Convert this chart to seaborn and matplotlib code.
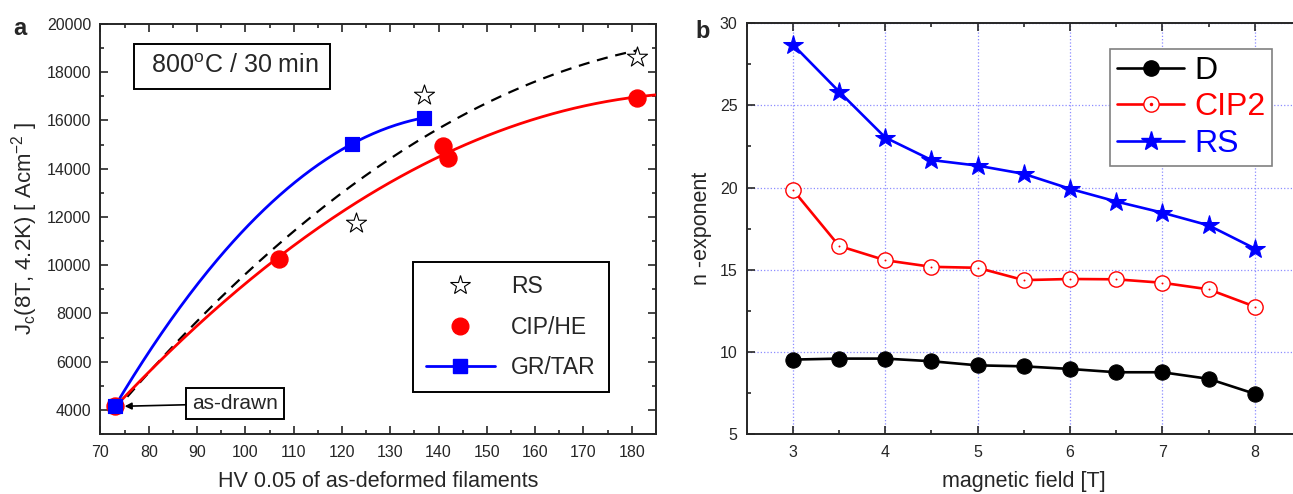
import numpy as np
import matplotlib
matplotlib.use("Agg")
import matplotlib.pyplot as plt
import seaborn as sns
from matplotlib.lines import Line2D
from matplotlib.ticker import MultipleLocator
from matplotlib.legend_handler import HandlerTuple

# panel a: Jc vs hardness, all series share the as-drawn point
as_drawn_hv = [73]
as_drawn_jc = [4150]
hv_rs = [123, 137, 181]
jc_rs = [11750, 17050, 18650]
hv_cip = [107, 141, 142, 181]
jc_cip = [10250, 14920, 14430, 16950]
hv_gr = [122, 137]
jc_gr = [15020, 16110]

# panel b: n-exponent vs field
field = [3, 3.5, 4, 4.5, 5, 5.5, 6, 6.5, 7, 7.5, 8]
n_d = [9.54, 9.60, 9.60, 9.44, 9.19, 9.13, 8.97, 8.77, 8.77, 8.37, 7.46]
n_cip2 = [19.86, 16.45, 15.58, 15.18, 15.12, 14.37, 14.44, 14.42, 14.21, 13.81, 12.76]
n_rs = [28.69, 25.83, 23.04, 21.67, 21.33, 20.83, 19.92, 19.15, 18.47, 17.70, 16.29]

sns.set_style("ticks")
plt.rcParams['font.family'] = ['Liberation Sans', 'DejaVu Sans']
plt.rcParams['mathtext.default'] = 'regular'


def quad_fit(x, y, x_end):
    # second order fit of the measured points, as in the original figure
    coef = np.polyfit(x, y, 2)
    xs = np.linspace(min(x), x_end, 200)
    return xs, np.polyval(coef, xs)


def style_axis(ax, xmaj, xmin, ymaj, ymin):
    ax.xaxis.set_major_locator(MultipleLocator(xmaj))
    ax.xaxis.set_minor_locator(MultipleLocator(xmin))
    ax.yaxis.set_major_locator(MultipleLocator(ymaj))
    ax.yaxis.set_minor_locator(MultipleLocator(ymin))
    ax.tick_params(which='both', direction='in', top=True, right=True, width=1.2)
    ax.tick_params(which='major', length=5.5, labelsize=11.5)
    ax.tick_params(which='minor', length=3)
    ax.tick_params(axis='x', pad=8)
    ax.tick_params(axis='y', pad=6.5)
    for sp in ax.spines.values():
        sp.set_visible(True)
        sp.set_linewidth(1.4)


fig = plt.figure(figsize=(12.93, 4.94), dpi=100)
ax1 = fig.add_axes([0.0777, 0.1215, 0.4296, 0.830])
ax2 = fig.add_axes([0.5775, 0.1209, 0.4287, 0.8325])

# ---- panel a ----
ax1.set_xlim(70, 185)
ax1.set_ylim(3000, 20000)

x_all_rs = as_drawn_hv + hv_rs
y_all_rs = as_drawn_jc + jc_rs
x_all_cip = as_drawn_hv + hv_cip
y_all_cip = as_drawn_jc + jc_cip
x_all_gr = as_drawn_hv + hv_gr
y_all_gr = as_drawn_jc + jc_gr

xs, ys = quad_fit(x_all_rs, y_all_rs, 181)
sns.lineplot(x=xs, y=ys, color='k', lw=1.6, dashes=(5, 3.5), ax=ax1, zorder=2)
xs, ys = quad_fit(x_all_cip, y_all_cip, 185)
sns.lineplot(x=xs, y=ys, color='#ff0000', lw=2.0, ax=ax1, zorder=3)
xs, ys = quad_fit(x_all_gr, y_all_gr, 137)
sns.lineplot(x=xs, y=ys, color='#0000ff', lw=2.0, ax=ax1, zorder=3)

sns.scatterplot(x=hv_rs, y=jc_rs, marker='*', s=230, facecolor='white',
                edgecolor='k', linewidth=0.8, ax=ax1, zorder=4)
sns.scatterplot(x=x_all_cip, y=y_all_cip, marker='o', s=150, color='#ff0000',
                edgecolor='#ff0000', ax=ax1, zorder=5)
sns.scatterplot(x=x_all_gr, y=y_all_gr, marker='s', s=110, color='#0000ff',
                edgecolor='#0000ff', ax=ax1, zorder=6)

style_axis(ax1, 10, 5, 2000, 1000)
ax1.set_xlabel('HV 0.05 of as-deformed filaments', fontsize=15.5, labelpad=8)
ax1.set_ylabel(r'J$_\mathregular{c}$(8T, 4.2K) [ Acm$^\mathregular{-2}$ ]',
               fontsize=16, labelpad=5)

ax1.text(97.3, 18250, r' 800$^\mathregular{o}$C / 30 min ', fontsize=18,
         ha='center', va='center',
         bbox=dict(boxstyle='square,pad=0.42', fc='white', ec='k', lw=1.4))
ax1.annotate('as-drawn', xy=(75, 4150), xytext=(97.9, 4260), fontsize=15,
             ha='center', va='center',
             bbox=dict(boxstyle='square,pad=0.3', fc='white', ec='k', lw=1.4),
             arrowprops=dict(arrowstyle='-|>', color='k', lw=1.2,
                             mutation_scale=10, shrinkA=0, shrinkB=0))

leg_a = [
    Line2D([], [], ls='none', marker='*', ms=15, mfc='white', mec='k', mew=0.8),
    Line2D([], [], ls='none', marker='o', ms=12, mfc='#ff0000', mec='#ff0000'),
    Line2D([], [], color='#0000ff', lw=2.0, marker='s', ms=10,
           mfc='#0000ff', mec='#0000ff'),
]
lg = ax1.legend(leg_a, ['RS', 'CIP/HE', 'GR/TAR'], loc='lower right',
                bbox_to_anchor=(0.915, 0.102), borderaxespad=0, fontsize=16.5,
                handlelength=3.0, handletextpad=0.7, labelspacing=0.75,
                borderpad=0.58, fancybox=False, framealpha=1)
lg.get_frame().set_edgecolor('k')
lg.get_frame().set_linewidth(1.4)

# ---- panel b ----
ax2.set_xlim(2.5, 8.5)
ax2.set_ylim(5, 30)
ax2.grid(True, which='major', color='#8c8cff', linestyle=':', linewidth=0.9)
ax2.set_axisbelow(True)

sns.lineplot(x=field, y=n_d, color='k', lw=1.9, marker='o', ms=11,
             mfc='k', mec='k', ax=ax2)
sns.lineplot(x=field, y=n_cip2, color='#ff0000', lw=1.9, marker='o', ms=11,
             mfc='white', mec='#ff0000', mew=1.0, ax=ax2)
sns.scatterplot(x=field, y=n_cip2, s=2, color='#ff0000', linewidth=0, ax=ax2,
                zorder=5)
sns.lineplot(x=field, y=n_rs, color='#0000ff', lw=1.9, marker='*', ms=15,
             mfc='#0000ff', mec='#0000ff', ax=ax2)

style_axis(ax2, 1, 0.5, 5, 2.5)
ax2.set_xlabel('magnetic field [T]', fontsize=15.5, labelpad=8)
ax2.set_ylabel('n -exponent', fontsize=15.5, labelpad=6)

h_d = Line2D([], [], color='k', lw=1.9, marker='o', ms=11, mfc='k', mec='k')
h_c = Line2D([], [], color='#ff0000', lw=1.9, marker='o', ms=11, mfc='white',
             mec='#ff0000', mew=1.0)
h_cdot = Line2D([], [], ls='none', marker='o', ms=1.5, mfc='#ff0000', mec='#ff0000')
h_r = Line2D([], [], color='#0000ff', lw=1.9, marker='*', ms=15,
             mfc='#0000ff', mec='#0000ff')
lg2 = ax2.legend([h_d, (h_c, h_cdot), h_r], ['D', 'CIP2', 'RS'],
                 handler_map={tuple: HandlerTuple(ndivide=1)},
                 loc='upper right', bbox_to_anchor=(0.948, 0.937),
                 borderaxespad=0, fontsize=23, handlelength=2.1,
                 handletextpad=0.3, labelspacing=0.2, borderpad=0.22,
                 fancybox=False, framealpha=1)
lg2.get_frame().set_edgecolor('#808080')
lg2.get_frame().set_linewidth(1.2)
for txt, col in zip(lg2.get_texts(), ['k', '#ff0000', '#0000ff']):
    txt.set_color(col)

fig.text(0.010, 0.929, 'a', fontsize=17, fontweight='bold', va='baseline')
fig.text(0.5375, 0.923, 'b', fontsize=17, fontweight='bold', va='baseline')

fig.savefig('out.png', dpi=100)
